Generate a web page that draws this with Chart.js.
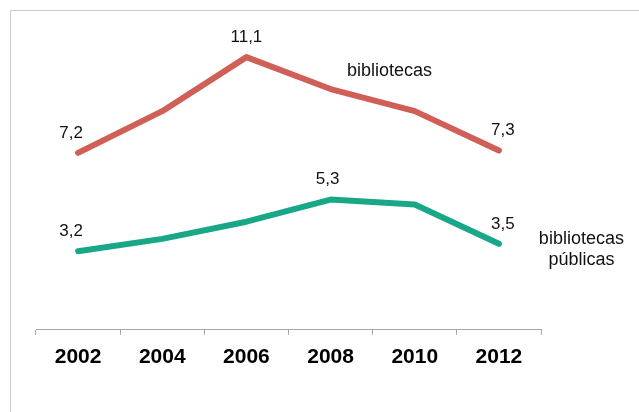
<!DOCTYPE html>
<html>
<head>
<meta charset="utf-8">
<script src="https://cdn.jsdelivr.net/npm/chart.js"></script>
<style>
  html, body { margin: 0; padding: 0; background: #fff; overflow: hidden; }
  #wrap { position: relative; width: 639px; height: 412px; }
  #frame { position: absolute; left: 10px; top: 10px; width: 700px; height: 500px; border: 1px solid #CDCDCD; }
  canvas { position: absolute; left: 0; top: 0; }
</style>
</head>
<body>
<div id="wrap">
  <div id="frame"></div>
  <canvas id="c" width="639" height="412"></canvas>
</div>
<script>
// Years on the category axis
const years = ['2002', '2004', '2006', '2008', '2010', '2012'];
// Index values per year
const bibliotecas = [7.2, 8.9, 11.1, 9.8, 8.9, 7.3];
const bibliotecasPublicas = [3.2, 3.7, 4.4, 5.3, 5.1, 3.5];
// Which points carry a value label
const bibliotecasLabelIdx = [0, 2, 5];
const publicasLabelIdx = [0, 3, 5];
// Series name lines
const bibliotecasName = ['bibliotecas'];
const publicasName = ['bibliotecas', 'públicas'];

const FONT = '"Liberation Sans", Arial, sans-serif';
const fmt = v => v.toFixed(1).replace('.', ',');

// Draws value labels above chosen points and the series names next to the lines
const labelPlugin = {
  id: 'seriesLabels',
  afterDatasetsDraw(chart) {
    const ctx = chart.ctx;
    const xs = chart.scales.x, ys = chart.scales.y;
    ctx.save();
    ctx.fillStyle = '#111';
    ctx.textAlign = 'center';
    ctx.textBaseline = 'middle';
    ctx.font = '17px ' + FONT;
    const idxSets = [bibliotecasLabelIdx, publicasLabelIdx];
    chart.data.datasets.forEach((ds, di) => {
      const meta = chart.getDatasetMeta(di);
      idxSets[di].forEach(i => {
        const pt = meta.data[i];
        let dx = 0;
        if (i === 0) dx = -7;
        else if (i === ds.data.length - 1) dx = 4;
        else if (di === 1) dx = -3;
        ctx.fillText(fmt(ds.data[i]), pt.x + dx, pt.y - 20);
      });
    });
    ctx.font = '18px ' + FONT;
    // series names, positioned in data coordinates
    const drawName = (lines, xv, yv, lh) => {
      const x = xs.getPixelForValue(xv);
      const yc = ys.getPixelForValue(yv);
      const y0 = yc - (lines.length - 1) * lh / 2;
      lines.forEach((t, k) => ctx.fillText(t, x, y0 + k * lh));
    };
    drawName(bibliotecasName, 3.7, 10.55, 21);
    drawName(publicasName, 5.98, 3.28, 21);
    ctx.restore();
  }
};

new Chart(document.getElementById('c'), {
  type: 'line',
  data: {
    labels: years,
    datasets: [
      {
        label: 'bibliotecas',
        data: bibliotecas,
        borderColor: '#CF5F57',
        borderWidth: 6,
        borderCapStyle: 'round',
        borderJoinStyle: 'round',
        pointRadius: 0,
        tension: 0,
        fill: false
      },
      {
        label: 'bibliotecas públicas',
        data: bibliotecasPublicas,
        borderColor: '#18A888',
        borderWidth: 6,
        borderCapStyle: 'round',
        borderJoinStyle: 'round',
        pointRadius: 0,
        tension: 0,
        fill: false
      }
    ]
  },
  options: {
    responsive: false,
    animation: false,
    devicePixelRatio: 1,
    layout: { padding: { left: 36, right: 98, top: 35, bottom: 32 } },
    plugins: { legend: { display: false }, tooltip: { enabled: false } },
    scales: {
      x: {
        type: 'category',
        offset: true,
        grid: { offset: true, drawOnChartArea: false, drawTicks: true, tickLength: 5, color: '#A6A6A6', lineWidth: 1 },
        border: { display: true, color: '#A6A6A6', width: 1 },
        ticks: { color: '#000', padding: 10, font: { family: FONT, size: 21, weight: 'bold' }, maxRotation: 0 }
      },
      y: {
        display: false,
        min: 0,
        max: 12
      }
    }
  },
  plugins: [labelPlugin]
});
</script>
</body>
</html>
